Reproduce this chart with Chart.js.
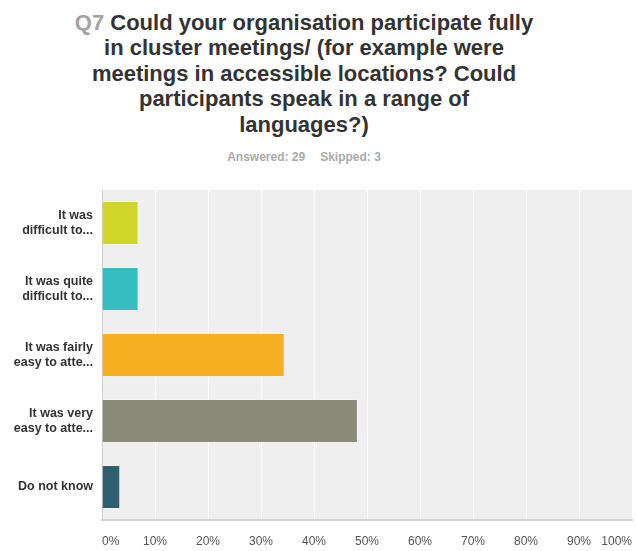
<!DOCTYPE html>
<html>
<head>
<meta charset="utf-8">
<script src="https://cdn.jsdelivr.net/npm/chart.js@4/dist/chart.umd.min.js"></script>
<style>
  html, body { margin: 0; padding: 0; background: #fff; }
  body { width: 636px; height: 551px; position: relative; overflow: hidden; font-family: "Liberation Sans", Arial, sans-serif; }
  #title { position: absolute; left: 0; top: 9.5px; width: 608px; text-align: center;
           font-weight: bold; font-size: 22px; line-height: 25.5px; color: #333; }
  #title .qn { color: #a3a3a3; }
  #sub { position: absolute; left: 0; top: 150px; width: 608px; text-align: center;
         font-weight: bold; font-size: 12px; color: #aaa; }
  #sub span + span { margin-left: 15px; }
  canvas { position: absolute; left: 0; top: 0; }
</style>
</head>
<body>
<div id="title"><span class="qn">Q7</span> Could your organisation participate fully<br>in cluster meetings/ (for example were<br>meetings in accessible locations? Could<br>participants speak in a range of<br>languages?)</div>
<div id="sub"><span>Answered: 29</span><span>Skipped: 3</span></div>
<canvas id="c" width="636" height="551"></canvas>
<script>
// Answer choices (two-line, truncated as shown on the axis)
const categories = [
  ["It was", "difficult to..."],
  ["It was quite", "difficult to..."],
  ["It was fairly", "easy to atte..."],
  ["It was very", "easy to atte..."],
  "Do not know"
];
// Share of respondents, percent (2, 2, 10, 14 and 1 of 29)
const percentages = [6.90, 6.90, 34.48, 48.28, 3.45];
const barColors = ["#d0d62a", "#35bec1", "#f7af22", "#898a77", "#2f5f6e"];
const xTicks = [0, 10, 20, 30, 40, 50, 60, 70, 80, 90, 100];

// Light grey panel behind the plotting area
const panelBackground = {
  id: "panelBackground",
  beforeDraw(chart) {
    const { ctx, chartArea: a } = chart;
    ctx.save();
    ctx.fillStyle = "#efefef";
    ctx.fillRect(a.left, a.top, a.right - a.left, a.bottom - a.top);
    ctx.restore();
  }
};

new Chart(document.getElementById("c"), {
  type: "bar",
  data: {
    labels: categories,
    datasets: [{
      data: percentages,
      backgroundColor: barColors,
      borderColor: "rgba(255,255,255,0.35)",
      borderWidth: 1,
      barPercentage: 0.667,
      categoryPercentage: 1.0
    }]
  },
  options: {
    indexAxis: "y",
    responsive: false,
    animation: false,
    devicePixelRatio: 1,
    layout: { padding: { top: 190, right: 4, bottom: 0, left: 0 } },
    plugins: {
      legend: { display: false },
      tooltip: { enabled: false }
    },
    scales: {
      x: {
        min: 0,
        max: 100,
        afterBuildTicks(scale) { scale.ticks = xTicks.map(v => ({ value: v })); },
        afterFit(scale) { scale.height = 31; scale.paddingLeft = 0; scale.paddingRight = 0; },
        grid: { color: "#ffffff", lineWidth: 1, drawTicks: false },
        border: { color: "#d2d2d2", width: 2 },
        ticks: {
          align: "inner",
          padding: 14,
          color: "#555",
          font: { family: "'Liberation Sans', Arial, sans-serif", size: 12 },
          callback: v => v + "%"
        }
      },
      y: {
        afterFit(scale) { scale.width = 102; },
        grid: { display: false, drawTicks: false },
        border: { color: "#cfcfcf", width: 1 },
        ticks: {
          padding: 9,
          color: "#333",
          font: { family: "'Liberation Sans', Arial, sans-serif", size: 12.5, weight: "bold", lineHeight: 1.2 }
        }
      }
    }
  },
  plugins: [panelBackground]
});
</script>
</body>
</html>
